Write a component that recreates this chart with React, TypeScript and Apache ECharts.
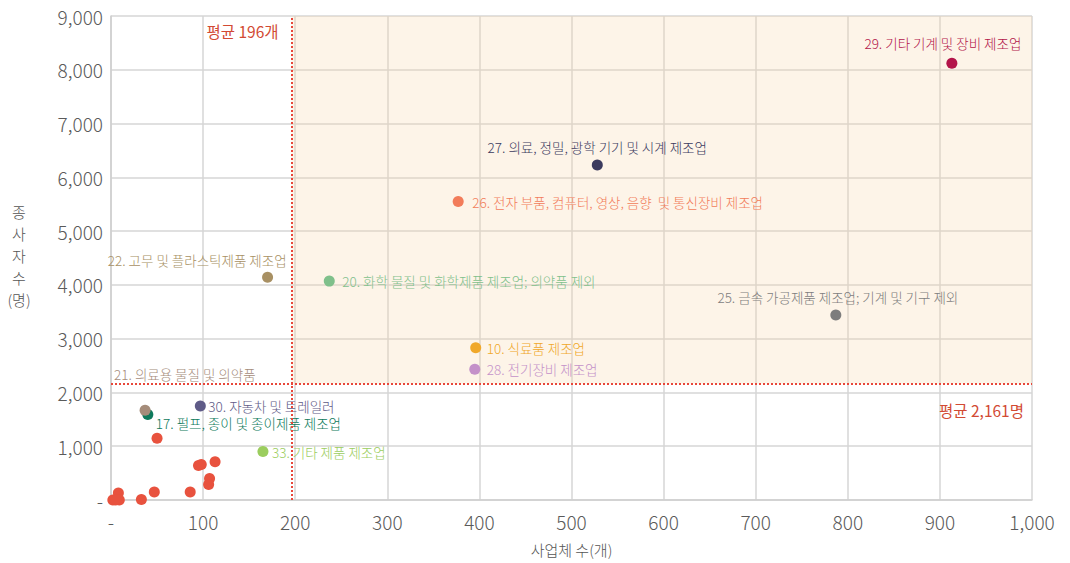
import React, { useEffect, useRef } from 'react';
import * as echarts from 'echarts';

// ---- data ----
const industryNames = [
  '29. 기타 기계 및 장비 제조업',
  '27. 의료, 정밀, 광학 기기 및 시계 제조업',
  '26. 전자 부품, 컴퓨터, 영상, 음향  및 통신장비 제조업',
  '22. 고무 및 플라스틱제품 제조업',
  '20. 화학 물질 및 화학제품 제조업; 의약품 제외',
  '25. 금속 가공제품 제조업; 기계 및 기구 제외',
  '10. 식료품 제조업',
  '28. 전기장비 제조업',
  '17. 펄프, 종이 및 종이제품 제조업',
  '21. 의료용 물질 및 의약품',
  '30. 자동차 및 트레일러',
  '33. 기타 제품 제조업',
];
const industryFirms = [913, 528, 377, 170, 237, 787, 396, 395, 40, 37, 97, 165];
const industryWorkers = [8120, 6230, 5550, 4140, 4070, 3440, 2830, 2430, 1590, 1670, 1750, 900];

const otherFirms = [50, 95, 98, 113, 107, 106, 86, 47, 33, 8, 2, 9, 5];
const otherWorkers = [1150, 640, 660, 710, 400, 290, 150, 150, 10, 130, 0, 0, 0];

const avgFirms = 196;
const avgWorkers = 2161;

const xTickMax = 1000;
const yTickMax = 9000;

// ---- styles ----
const industryColors = [
  '#b3154a', '#3b3a5e', '#f27c5a', '#a89063', '#7fc08b', '#7d7d7d',
  '#f0a82a', '#c491c9', '#0e7a5c', '#a58c7a', '#5f5b87', '#9bcd5e',
];
// [dx, dy, align] relative to point centre
const labelLayout: [number, number, string][] = [
  [-9, -20, 'center'],
  [0, -18, 'center'],
  [14, 0, 'left'],
  [19, -17, 'right'],
  [13, 0, 'left'],
  [2, -18, 'center'],
  [11, 0, 'left'],
  [12, 0, 'left'],
  [8, 9, 'left'],
  [-31, -36, 'left'],
  [8, 0, 'left'],
  [9, 0, 'left'],
];
const labelTextColors = [
  '#b3154a', '#3b3a5e', '#f27c5a', '#a89063', '#7fc08b', '#7d7d7d',
  '#f0a82a', '#c491c9', '#0e7a5c', '#a58c7a', '#5f5b87', '#9bcd5e',
];
const otherColor = '#e8523e';
const avgColor = '#e8473a';
const avgTextColor = '#d24a33';
const FONT = "'Noto Sans CJK KR', 'Noto Sans', sans-serif";
const SYM = 11;

export default function App() {
  const ref = useRef<HTMLDivElement>(null);
  useEffect(() => {
    if (!ref.current) return;
    const chart = echarts.init(ref.current, null, { renderer: 'svg' });

    const fmt = (v: number) => (v === 0 ? '-' : v.toLocaleString('en-US'));

    const industryData = industryNames.map((n, i) => {
      const [dx, dy, align] = labelLayout[i];
      return {
        name: n,
        value: [industryFirms[i], industryWorkers[i]],
        itemStyle: { color: industryColors[i] },
        label: {
          show: true,
          formatter: n,
          position: [SYM / 2 + dx, SYM / 2 + dy],
          align,
          verticalAlign: 'middle',
          lineHeight: 15,
          color: labelTextColors[i],
          fontSize: 13.5,
          fontWeight: 300,
          fontFamily: FONT,
        },
      };
    });

    const option: any = {
      animation: false,
      backgroundColor: '#fff',
      grid: { left: 111, right: 38, top: 16, bottom: 63, containLabel: false },
      xAxis: {
        type: 'value',
        min: 0,
        max: xTickMax,
        interval: 100,
        name: '사업체 수(개)',
        nameLocation: 'middle',
        nameGap: 42,
        nameTextStyle: { fontSize: 15, color: '#555', fontFamily: FONT, fontWeight: 300 },
        axisLine: { show: true, lineStyle: { color: '#cfcfcf', width: 1.5 } },
        axisTick: { show: false },
        splitLine: { show: true, lineStyle: { color: '#d6d6d6', width: 1.5 } },
        axisLabel: { formatter: fmt, fontSize: 19, color: '#5a5a5a', margin: 12, fontFamily: FONT, fontWeight: 300 },
      },
      yAxis: {
        type: 'value',
        min: 0,
        max: yTickMax,
        interval: 1000,
        axisLine: { show: true, lineStyle: { color: '#cfcfcf', width: 1.5 } },
        axisTick: { show: false },
        splitLine: { show: true, lineStyle: { color: '#d6d6d6', width: 1.5 } },
        axisLabel: { formatter: fmt, fontSize: 19, color: '#5a5a5a', margin: 8, fontFamily: FONT, fontWeight: 300 },
      },
      series: [
        {
          type: 'scatter',
          symbolSize: SYM,
          clip: false,
          data: otherFirms.map((x, i) => [x, otherWorkers[i]]),
          itemStyle: { color: otherColor, opacity: 1 },
          markArea: {
            silent: true,
            itemStyle: { color: 'rgba(247,215,170,0.27)' },
            data: [[{ coord: [avgFirms, avgWorkers] }, { coord: [xTickMax, yTickMax] }]],
          },
          markLine: {
            silent: true,
            symbol: 'none',
            label: { show: false },
            lineStyle: { color: avgColor, type: 'dotted', width: 2 },
            data: [{ xAxis: avgFirms }, { yAxis: avgWorkers }],
          },
        },
        {
          type: 'scatter',
          symbolSize: SYM,
          clip: false,
          data: industryData,
          itemStyle: { opacity: 1 },
        },
      ],
    };
    chart.setOption(option);

    const pTop = chart.convertToPixel({ gridIndex: 0 }, [avgFirms, yTickMax]) as number[];
    const pRight = chart.convertToPixel({ gridIndex: 0 }, [xTickMax, avgWorkers]) as number[];
    chart.setOption({
      graphic: [
        {
          type: 'text',
          x: pTop[0] - 13,
          y: pTop[1] + 15,
          style: {
            text: '평균 196개',
            align: 'right',
            verticalAlign: 'middle',
            fill: avgTextColor,
            fontSize: 15.5,
            fontWeight: 'normal',
            fontFamily: FONT,
          },
        },
        {
          type: 'text',
          x: pRight[0] - 8,
          y: pRight[1] + 26,
          style: {
            text: '평균 2,161명',
            align: 'right',
            verticalAlign: 'middle',
            fill: avgTextColor,
            fontSize: 15.5,
            fontWeight: 'normal',
            fontFamily: FONT,
          },
        },
        {
          type: 'text',
          x: 19,
          y: 255,
          style: {
            text: '종\n사\n자\n수\n(명)',
            align: 'center',
            verticalAlign: 'middle',
            lineHeight: 22,
            fill: '#555',
            fontSize: 15,
            fontWeight: 300,
            fontFamily: FONT,
          },
        },
      ],
    });

    return () => chart.dispose();
  }, []);
  return (
    <div
      ref={ref}
      style={{ position: 'fixed', left: 0, top: 0, width: 1070, height: 563 }}
    />
  );
}
